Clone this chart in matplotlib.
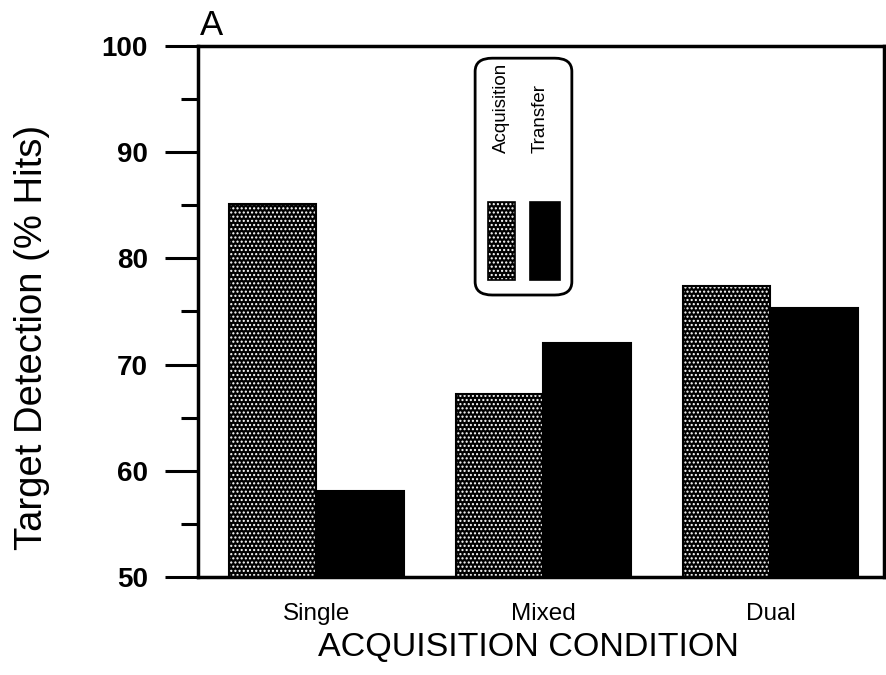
import matplotlib.pyplot as plt
import numpy as np
from matplotlib.patches import FancyBboxPatch, Rectangle

# data
conditions = ["Single", "Mixed", "Dual"]
acquisition = [85.1, 67.2, 77.4]
transfer = [58.1, 72.0, 75.3]

plt.rcParams['font.family'] = ['Liberation Sans', 'DejaVu Sans']
plt.rcParams['hatch.linewidth'] = 1.0

fig = plt.figure(figsize=(8.87, 6.75), dpi=100)
ax = fig.add_axes([0.2232, 0.1452, 0.7734, 0.7867])

x = np.arange(len(conditions))
w = 0.385

# acquisition bars: black with white speckle, then black outline
ax.bar(x - w / 2, np.array(acquisition) - 50, w, bottom=50, color='black',
       edgecolor='white', hatch='....', linewidth=0)
ax.bar(x - w / 2, np.array(acquisition) - 50, w, bottom=50, color='none',
       edgecolor='black', linewidth=1.5)
ax.bar(x + w / 2, np.array(transfer) - 50, w, bottom=50, color='black',
       edgecolor='black', linewidth=1.5)

ax.set_xlim(-0.52, 2.50)
ax.set_ylim(50, 100)
ax.set_yticks([50, 60, 70, 80, 90, 100])
ax.set_yticks([55, 65, 75, 85, 95], minor=True)
ax.set_xticks(x)
ax.set_xticklabels(conditions, fontsize=17.5)
ax.tick_params(axis='x', length=0, pad=19)
ax.tick_params(axis='y', which='major', length=24, width=2.2, labelsize=20, pad=12)
ax.tick_params(axis='y', which='minor', length=12, width=2.2)
for lab in ax.get_yticklabels():
    lab.set_fontweight('bold')

for s in ax.spines.values():
    s.set_linewidth(2.5)

fig.text(0.036, 0.50, "Target Detection (% Hits)", fontsize=27.5, rotation=90,
         ha='center', va='center')
fig.text(0.596, 0.028, "ACQUISITION CONDITION", fontsize=24.5, ha='center', va='baseline')

fig.text(0.225, 0.948, "A", fontsize=25)

# legend box with vertical labels
box = FancyBboxPatch((0.404, 0.531), 0.141, 0.446, boxstyle="round,pad=0,rounding_size=0.025",
                     transform=ax.transAxes, facecolor='white', edgecolor='black',
                     linewidth=2)
ax.add_patch(box)
ax.add_patch(Rectangle((0.423, 0.559), 0.039, 0.147, transform=ax.transAxes,
                       facecolor='black', edgecolor='white', hatch='....', linewidth=0))
ax.add_patch(Rectangle((0.423, 0.559), 0.039, 0.147, transform=ax.transAxes,
                       facecolor='none', edgecolor='black', linewidth=1.2))
ax.add_patch(Rectangle((0.484, 0.559), 0.044, 0.147, transform=ax.transAxes,
                       facecolor='black', edgecolor='black', linewidth=1.2))
ax.text(0.443, 0.798, "Acquisition", rotation=90, transform=ax.transAxes,
        ha='center', va='bottom', fontsize=13.5)
ax.text(0.499, 0.798, "Transfer", rotation=90, transform=ax.transAxes,
        ha='center', va='bottom', fontsize=13.5)

fig.savefig("out.png", dpi=100)
